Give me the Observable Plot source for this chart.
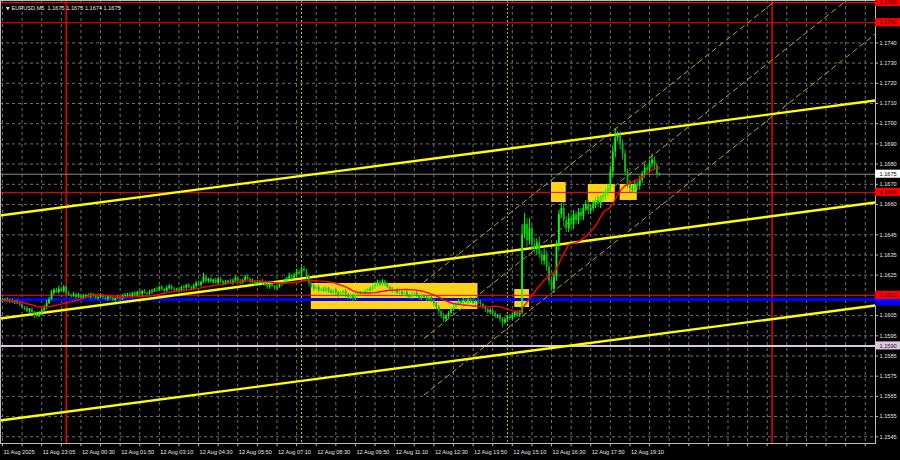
<!DOCTYPE html>
<html><head><meta charset="utf-8">
<script src="https://cdn.jsdelivr.net/npm/d3@7"></script>
<script src="https://cdn.jsdelivr.net/npm/@observablehq/plot@0.6"></script>
<style>
html,body{margin:0;padding:0;background:#000;overflow:hidden;}
#chart{width:900px;height:460px;}
</style></head><body><div id="chart"></div>
<script>
// ---------------- DATA ----------------
const symbol = "EURUSD,M5";
const headerOHLC = ["1.1675", "1.1675", "1.1674", "1.1675"];
const firstBar = "2025-08-11T21:50:00Z";
const barMinutes = 5;
const priceBase = 1.16;          // pips below are offsets from this price
const firstOpenPips = 12;
const closePips = [
 12.5, 13, 12, 12.5, 11.5, 12, 11, 10.5,
 9, 8.5, 7, 8, 6.5, 5, 4.5, 6,
 7.5, 9, 11, 13,
 16, 17.5, 16.5, 18, 17, 19, 16,
 15, 14.5, 15.5, 14, 15, 13.5, 14.5, 15, 14, 15.5, 14.5, 13.5, 14, 15,
 14, 13, 14.5, 13.5, 12.5, 13.5, 14, 13, 14.5, 15,
 15.5, 14.5, 16, 15, 16.5, 15.5, 17, 16, 15.5, 16.5,
 17, 18, 17.5, 19, 18, 17, 18.5, 19.5, 18, 17.5,
 18, 17, 19, 18.5, 20, 19, 18, 19.5, 21, 20, 21.5,
 24, 22, 23, 21.5, 22.5, 21, 23, 22, 20.5, 21.5, 22, 21,
 22, 23.5, 22, 21, 22.5, 24, 23, 21.5, 22, 20.5, 21.5, 22,
 21, 20, 19, 20.5, 19.5, 18.5, 19, 20.5, 21, 22,
 23, 24.5, 23.5, 25, 26.5, 25.5, 28, 27,
 24, 21, 19.5, 18, 19, 17.5, 18,
 17, 18.5, 17, 16, 17.5, 16.5, 15, 16, 17, 15.5, 14, 15, 13.5, 15, 16, 15.5,
 16, 17, 18, 17.5, 19, 20, 21.5, 20, 22, 20.5, 19, 18, 17, 17.5, 16, 16.5,
 15.5, 16.5, 15, 14, 15.5, 16, 14.5, 13.5, 15, 14, 13, 14, 12.5,
 11, 9, 7, 5, 3, 4.5, 6, 8,
 9, 10.5, 12, 11, 12.5, 11.5, 13, 12, 11, 12, 11.5,
 10.5, 9, 8, 6.5, 7.5, 6, 4.5, 5, 3, 1.5,
 3, 4.5, 3.5, 5, 6.5, 5, 6.5,
 45, 50, 42, 48, 40,
 38, 41, 35, 32, 35, 29,
 22, 18, 24,
 40, 55, 58,
 52, 48, 53, 50, 55,
 52, 56, 54, 58, 60, 57,
 58, 60, 62, 60, 63,
 64, 66, 68,
 76, 86, 93, 94, 90, 85,
 76, 70, 68, 67, 70, 69,
 72, 75, 78, 77, 80, 82, 79,
 75, 75
];
const upWickPips = [
 1,0.5,1,0.5,1,0.5,1,0.5,1,0.5,
 1,0.5,1,0.5,1,1,0.5,1,1.5,1,
 1.5,1,1,1.5,1,1,0.5,1,0.5,1,
 0.5,1,0.5,1,0.5,1,0.5,0.5,1,0.5,
 1,0.5,1,0.5,0.5,1,0.5,1,0.5,1,
 1,0.5,1,0.5,1,0.5,1,0.5,1,0.5,
 1,1,0.5,1,0.5,1,0.5,1,1,0.5,
 1,0.5,1,0.5,1,0.5,1,0.5,1,1,
 1,0.5,2,1,0.5,1,0.5,1,0.5,1,
 0.5,1,0.5,1,1,1,0.5,1,0.5,1,
 1,0.5,1,0.5,1,0.5,1,0.5,1,0.5,
 1,0.5,1,1,0.5,1,1,1.5,1,1,
 1.5,1,1,1.5,1,1,0.5,1,0.5,1,
 0.5,1,1,0.5,1,0.5,1,0.5,1,0.5,
 1,0.5,1,0.5,1,0.5,1,1,1,0.5,
 1,1,1.5,1,1,1,0.5,1,0.5,1,
 0.5,1,0.5,1,0.5,1,0.5,1,0.5,1,
 0.5,1,0.5,1,0.5,1,1,0.5,1,0.5,
 1,1,1,1,1.5,1,1,0.5,1,1,
 0.5,1,1,0.5,1,1,0.5,1,0.5,1,
 0.5,1,0.5,1,1,1,0.5,1,1,0.5,
 1,1,5,5.5,3,5,2,3,2,3,
 2,3,2,2,1,2,2,2,2.5,3,
 2,2.5,2,2,1.5,2,2,1.5,2,2,
 1.5,2,1.5,2,1.5,2,1.5,2,3,3,
 4.6,2,2,2,2,1.5,2,1.5,2,1.5,
 2,1.5,2,1.5,2,3,1.5,1.5,0
];
const lowWickPips = [
 0.5,1,0.5,1,0.5,1,0.5,1,0.5,1,
 0.5,1,1,1.5,1,0.5,1,0.5,1,0.5,
 0.5,1,0.5,1,0.5,1,1,0.5,1,0.5,
 1,0.5,1,0.5,1,0.5,1,1,0.5,1,
 0.5,1,0.5,1,1,0.5,1,0.5,1,0.5,
 0.5,1,0.5,1,0.5,1,0.5,1,0.5,1,
 0.5,1,0.5,1,0.5,1,1,0.5,1,0.5,
 1,0.5,1,0.5,1,1,0.5,1,0.5,1,
 0.5,1,0.5,1,1,0.5,1,0.5,1,1,
 1,0.5,1,0.5,1,0.5,1,1,0.5,1,
 0.5,1,0.5,1,0.5,1,1,0.5,1,1,
 0.5,1,1,0.5,1,0.5,1,0.5,1,0.5,
 1,0.5,1,0.5,1,1.5,1,1,0.5,1,
 1,0.5,1,1,0.5,1,1.5,1,0.5,1,
 1.5,1,1,1.5,1,0.5,1,0.5,1,0.5,
 1,0.5,1,1,0.5,1,1,0.5,1,1,
 1,0.5,1,0.5,1,1,0.5,1,1,0.5,
 1,1,0.5,1,1,1,1.5,1,1.5,1.5,
 1.4,1,1,0.5,1,1,0.5,1,1,0.5,
 1,1,0.5,1,1,1,1,1.5,1,1,
 1.5,1,1,1.5,2.5,1,1.5,1,1,1,
 1,1,1,2,3,2,3,2,3,2,
 2,2,2,2,1,2,2,3,2,3,
 2,2,2,2.5,2,2,2,2,1.5,2,
 2,1.5,2,1.5,2,1.5,2,2,2,3,
 3,2,3,3,2,2,2,1.5,2,2,
 2,1.5,2,2,1.5,2,2,2,1
];
const maPeriod = 20;

// price axis labels
const yTicks = [1.1740,1.1730,1.1720,1.1710,1.1700,1.1690,1.1680,1.1670,1.1660,1.1645,1.1635,1.1625,1.1605,1.1595,1.1585,1.1575,1.1565,1.1555,1.1545];
// time axis labels
const xTickTimes = ["2025-08-11T21:50Z","2025-08-11T23:10Z","2025-08-12T00:30Z","2025-08-12T01:50Z","2025-08-12T03:10Z","2025-08-12T04:30Z","2025-08-12T05:50Z","2025-08-12T07:10Z","2025-08-12T08:30Z","2025-08-12T09:50Z","2025-08-12T11:10Z","2025-08-12T12:30Z","2025-08-12T13:50Z","2025-08-12T15:10Z","2025-08-12T16:30Z","2025-08-12T17:50Z","2025-08-12T19:10Z"];
const xTickLabels = ["11 Aug 2025","11 Aug 23:05","12 Aug 00:30","12 Aug 01:50","12 Aug 03:10","12 Aug 04:30","12 Aug 05:50","12 Aug 07:10","12 Aug 08:30","12 Aug 09:50","12 Aug 11:10","12 Aug 12:30","12 Aug 13:50","12 Aug 15:10","12 Aug 16:30","12 Aug 17:50","12 Aug 19:10"];

// horizontal levels
const redLevels = [1.1760, 1.1750, 1.1666, 1.1615];
const blueLevel = 1.1613;
const supportLevel = 1.1590;
const lastPrice = 1.1675;

// vertical lines
const daySeparators = ["2025-08-12T00:00Z", "2025-08-13T00:00Z"];
const sessionMarks = ["2025-08-12T08:00Z", "2025-08-12T15:00Z"];

// yellow trend lines (two anchor points each)
const trendTimes = ["2025-08-11T21:30Z", "2025-08-13T03:50Z"];
const upperTrend = [1.16541, 1.17121];
const middleTrend = [1.16031, 1.16616];
const lowerTrend = [1.15526, 1.16106];

// dashed regression channel
const channelTimes = ["2025-08-12T12:10Z", "2025-08-13T03:50Z"];
const channelMid = [1.15937, 1.17762];
const channelHalfWidth = 0.0028;

// yellow boxes
const boxStarts = ["2025-08-12T08:20Z","2025-08-12T15:15Z","2025-08-12T16:30Z","2025-08-12T17:45Z","2025-08-12T18:50Z"];
const boxEnds   = ["2025-08-12T14:00Z","2025-08-12T15:45Z","2025-08-12T17:00Z","2025-08-12T18:40Z","2025-08-12T19:25Z"];
const boxLows   = [1.16080, 1.16090, 1.16610, 1.16610, 1.16620];
const boxHighs  = [1.16209, 1.16179, 1.16709, 1.16699, 1.16699];

// ---------------- BUILD ----------------
const MIN = 60000;
const t0 = new Date(firstBar).getTime();
const barPx = 2.451;
const plotRight = 875, firstBarX = 2;
const tAtPx = px => new Date(t0 + ((px - firstBarX) / barPx) * barMinutes * MIN);
const xDomain = [tAtPx(0), tAtPx(plotRight)];
const xPastEnd = tAtPx(900);
const xTickEnd = tAtPx(plotRight + 3);
const pxPerPrice = 20200;
const yDomain = [1.1760 - 441 / pxPerPrice, 1.1760 + 2 / pxPerPrice];
const P = v => priceBase + v / 1e4;

const bars = closePips.map((c, i) => {
  const o = P(i === 0 ? firstOpenPips : closePips[i - 1]);
  const cl = P(c);
  return {
    t: new Date(t0 + i * barMinutes * MIN),
    open: o, close: cl,
    high: Math.max(o, cl) + upWickPips[i] / 1e4,
    low: Math.min(o, cl) - lowWickPips[i] / 1e4,
    up: cl >= o
  };
});
const ma = bars.map((b, i) => {
  const s = bars.slice(Math.max(0, i - maPeriod + 1), i + 1);
  return {t: b.t, v: d3.mean(s, d => d.close)};
});
const gridTimes = d3.range(0, 360, 8).map(i => new Date(t0 + i * barMinutes * MIN));
const trend = arr => trendTimes.map((s, k) => ({t: new Date(s), v: arr[k]}));
const chan = off => channelTimes.map((s, k) => ({t: new Date(s), v: channelMid[k] + off}));
const boxes = boxStarts.map((s, k) => ({x1: new Date(s), x2: new Date(boxEnds[k]), y1: boxLows[k], y2: boxHighs[k]}));

const FONT = "Liberation Sans";
const FS = 5.6;
const labelH = 0.0002;
const priceLabels = [
  {p: 1.1760, bg: "#ff0000", fg: "#300000"},
  {p: 1.1750, bg: "#ff0000", fg: "#300000"},
  {p: 1.1666, bg: "#ff0000", fg: "#300000"},
  {p: 1.1615, bg: "#ff0000", fg: "#300000"},
  {p: supportLevel, bg: "#dcc8dc", fg: "#202020"},
  {p: lastPrice, bg: "#ffffff", fg: "#000000"}
];

const chart = Plot.plot({
  width: 900, height: 460,
  marginLeft: 0, marginRight: 25, marginTop: 0, marginBottom: 17,
  x: {type: "utc", domain: xDomain, axis: null},
  y: {domain: yDomain, axis: null},
  style: {background: "#000", color: "#e6e6e6", fontFamily: FONT, fontSize: FS + "px", overflow: "visible"},
  marks: [
    // grid
    Plot.ruleY(yTicks, {y: d => d, stroke: "#707070", strokeDasharray: "3,3", strokeWidth: 1}),
    Plot.ruleX(gridTimes, {x: d => d, stroke: "#707070", strokeDasharray: "3,3", strokeWidth: 1}),
    // boxes (background)
    Plot.rect(boxes, {x1: "x1", x2: "x2", y1: "y1", y2: "y2", fill: "#ffd21a"}),
    // vertical separators
    Plot.ruleX(sessionMarks.map(s => new Date(s)), {x: d => d, stroke: "#a8c832", strokeDasharray: "2,2", strokeWidth: 1}),
    Plot.ruleX(daySeparators.map(s => new Date(s)), {x: d => d, stroke: "#e00000", strokeWidth: 1.6}),
    // horizontal levels
    Plot.ruleY([supportLevel], {y: d => d, stroke: "#dcc8dc", strokeWidth: 2}),
    Plot.ruleY([blueLevel], {y: d => d, stroke: "#0000ff", strokeWidth: 3}),
    Plot.ruleY(redLevels, {y: d => d, stroke: "#ff0000", strokeWidth: 1}),
    Plot.ruleY([lastPrice], {y: d => d, stroke: "#8c8c8c", strokeWidth: 1}),
    // dashed channel
    ...[channelHalfWidth, 0, -channelHalfWidth].map(off =>
      Plot.line(chan(off), {x: "t", y: "v", stroke: "#b4aa14", strokeWidth: 1, strokeDasharray: "5,4", clip: true})),
    // yellow trend lines
    ...[upperTrend, middleTrend, lowerTrend].map(arr =>
      Plot.line(trend(arr), {x: "t", y: "v", stroke: "#ffff00", strokeWidth: 2.4, clip: true})),
    // candles
    Plot.ruleX(bars, {x: "t", y1: "low", y2: "high", stroke: d => d.up ? "#00ff00" : "#14b414", strokeWidth: 1}),
    Plot.ruleX(bars, {x: "t", y1: "open", y2: d => d.close === d.open ? d.close + 0.00004 : d.close, stroke: d => d.up ? "#00ff00" : "#14b414", strokeWidth: 1.8}),
    // moving average
    Plot.line(ma, {x: "t", y: "v", stroke: "#ff0000", strokeWidth: 1.4}),
    // frame
    Plot.frame({stroke: "#bdbdbd", strokeWidth: 1}),
    // price axis
    Plot.ruleY(yTicks, {y: d => d, x1: xDomain[1], x2: xTickEnd, stroke: "#bdbdbd"}),
    Plot.text(yTicks, {x: xDomain[1], y: d => d, text: d => d.toFixed(4), dx: 4, textAnchor: "start", fill: "#e6e6e6", fontSize: FS, fontFamily: FONT}),
    // blue level label sits mostly hidden under the red 1.1615 label
    Plot.rect([blueLevel], {x1: xDomain[1], x2: xPastEnd, y1: d => d - labelH - 0.00012, y2: d => d + labelH - 0.00012, fill: "#0000ff"}),
    Plot.rect(priceLabels, {x1: xDomain[1], x2: xPastEnd, y1: d => d.p - labelH, y2: d => d.p + labelH, fill: "bg"}),
    Plot.text(priceLabels, {x: xDomain[1], y: "p", text: d => d.p.toFixed(4), dx: 4, textAnchor: "start", fill: "fg", fontSize: FS, fontFamily: FONT}),
    // time axis
    Plot.ruleX(gridTimes, {x: d => d, y1: yDomain[0], y2: yDomain[0] - 3 / pxPerPrice, stroke: "#bdbdbd"}),
    Plot.text(xTickTimes, {x: d => new Date(d), y: yDomain[0], text: (d, i) => xTickLabels[i], dy: 9, dx: 1, textAnchor: "start", fill: "#e6e6e6", fontSize: FS, fontFamily: FONT}),
    // header
    Plot.text(["\u25BC"], {frameAnchor: "top-left", dx: 5.5, dy: 6, fill: "#e6e6e6", fontSize: 4.5, fontFamily: "DejaVu Sans"}),
    Plot.text([symbol + "  " + headerOHLC.join(" ")], {frameAnchor: "top-left", dx: 11, dy: 6, textAnchor: "start", fill: "#e6e6e6", fontSize: FS, fontFamily: FONT})
  ]
});
document.getElementById("chart").appendChild(chart);
</script>
</body></html>
